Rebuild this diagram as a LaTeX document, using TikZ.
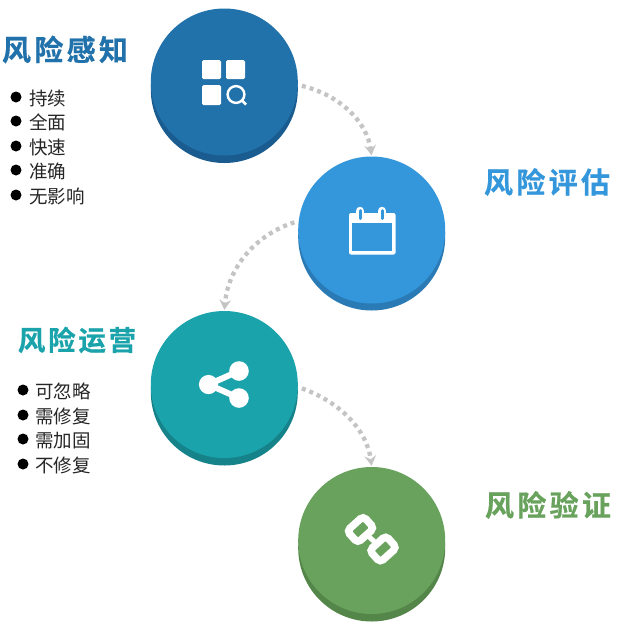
\documentclass[tikz,border=0pt]{standalone}
\usepackage{fontspec}
\usetikzlibrary{arrows.meta,calc}
\newfontfamily\cjkbody{Noto Sans CJK SC}
\newfontfamily\cjkhead[LetterSpace=11.5,FakeBold=0.6]{Noto Sans CJK SC Bold}
\newfontfamily\cjkheadn[LetterSpace=10,FakeBold=0.6]{Noto Sans CJK SC Bold}
\definecolor{blueA}{HTML}{2171AB}\definecolor{blueAs}{HTML}{1A5C8F}
\definecolor{blueB}{HTML}{3496DB}\definecolor{blueBs}{HTML}{2A7BB5}
\definecolor{tealC}{HTML}{1BA3AC}\definecolor{tealCs}{HTML}{16838B}
\definecolor{greenD}{HTML}{68A25C}\definecolor{greenDs}{HTML}{548549}
\definecolor{flowgray}{HTML}{C4C4C4}
\tikzset{
  disc/.style={circle,fill=#1,minimum size=147pt,inner sep=0pt,draw=none},
  flow/.style={draw=flowgray,line width=4.3pt,dash pattern=on 4pt off 4pt,
    -{Stealth[length=10pt,width=11.5pt,inset=3.5pt,fill=flowgray]},shorten >=1pt},
  heading/.style={text=#1,inner sep=0pt,font={\cjkhead\fontsize{29pt}{32pt}\selectfont}},
  headingn/.style={text=#1,inner sep=0pt,font={\cjkheadn\fontsize{27.5pt}{31pt}\selectfont}},
  item/.style={anchor=west,inner sep=0pt,text=black!85,font={\cjkbody\fontsize{18.5pt}{20pt}\selectfont}},
  dotb/.style={circle,fill=black,minimum size=11pt,inner sep=0pt},
  ico/.style={draw=white,fill=none},
  icofill/.style={fill=white,draw=none}
}
\begin{document}
\begin{tikzpicture}[x=1pt,y=-1pt]
\useasboundingbox[fill=white] (0,0) rectangle (619,630);
% discs
\node[disc=blueAs] (s1) at (224.3,89.5) {};
\node[disc=blueA] (c1) at (224.3,82) {};
\node[disc=blueBs] (s2) at (371.7,237) {};
\node[disc=blueB] (c2) at (371.7,230) {};
\node[disc=tealCs] (s3) at (224.3,392) {};
\node[disc=tealC] (c3) at (224.3,384.5) {};
\node[disc=greenDs] (s4) at (371.7,548) {};
\node[disc=greenD] (c4) at (371.7,540.5) {};
% connectors
\draw[flow] ([xshift=4pt]c1.-3) .. controls (340,95) and (367,122) .. (c2.north);
\draw[flow] ([xshift=-4pt]c2.174) .. controls (255,235) and (228,268) .. (c3.north);
\draw[flow] ([xshift=4pt]c3.-3) .. controls (340,402) and (367,430) .. (c4.north);
% headings
\node[heading=blueA] (h1) at (65,49.5) {风险感知};
\node[heading=blueB] (h2) at (547,182) {风险评估};
\node[headingn=tealC] (h3) at (77,340) {风险运营};
\node[heading=greenD] (h4) at (548,505) {风险验证};
% list one
\foreach \n/\y/\t in {1/98.5/持续,2/122.5/全面,3/147.5/快速,4/171.5/准确,5/196.5/无影响}{
  \node[dotb] (a\n) at (16,\y-1.5) {};
  \node[item] (ta\n) at (29,\y) {\t};
}
% list two
\foreach \n/\y/\t in {1/391.5/可忽略,2/416.5/需修复,3/440.5/需加固,4/465.5/不修复}{
  \node[dotb] (b\n) at (23,\y-1.5) {};
  \node[item] (tb\n) at (35,\y) {\t};
}
% icon 1: grid and magnifier
\fill[icofill,rounded corners=1.5pt] (202,60) rectangle (221,79);
\fill[icofill,rounded corners=1.5pt] (226,60) rectangle (245,79);
\fill[icofill,rounded corners=1.5pt] (202,85) rectangle (221,105);
\draw[ico,line width=2.4pt] (236,94.5) circle (8.4pt);
\draw[ico,line width=2.6pt] (242,100.5) -- (246,104.5);
% icon 2: calendar
\fill[icofill,rounded corners=2pt] (349,213) rectangle (395.5,254.5);
\fill[blueB] (352.3,223) rectangle (392.2,251.2);
\foreach \x in {360,382}{
  \draw[white,line width=8.5pt,line cap=round] (\x,211) -- (\x,217);
  \draw[blueB,line width=3pt,line cap=round] (\x,210.5) -- (\x,218.5);
}
% icon 3: share
\draw[ico,line width=6pt] (239,371) -- (208.5,384.5) -- (239,398);
\fill[icofill] (208.5,384.5) circle (9.6pt);
\fill[icofill] (239,371) circle (9.8pt);
\fill[icofill] (239,398) circle (9.8pt);
% icon 4: chain
\foreach \x/\y in {360.5/529.5,383/549}{
  \begin{scope}[shift={(\x,\y)},rotate=42]
    \draw[ico,line width=7.5pt,rounded corners=4pt] (-11,-8) rectangle (11,8);
  \end{scope}
}
\draw[ico,line width=5pt] (366,534) -- (378,545);
\end{tikzpicture}
\end{document}
